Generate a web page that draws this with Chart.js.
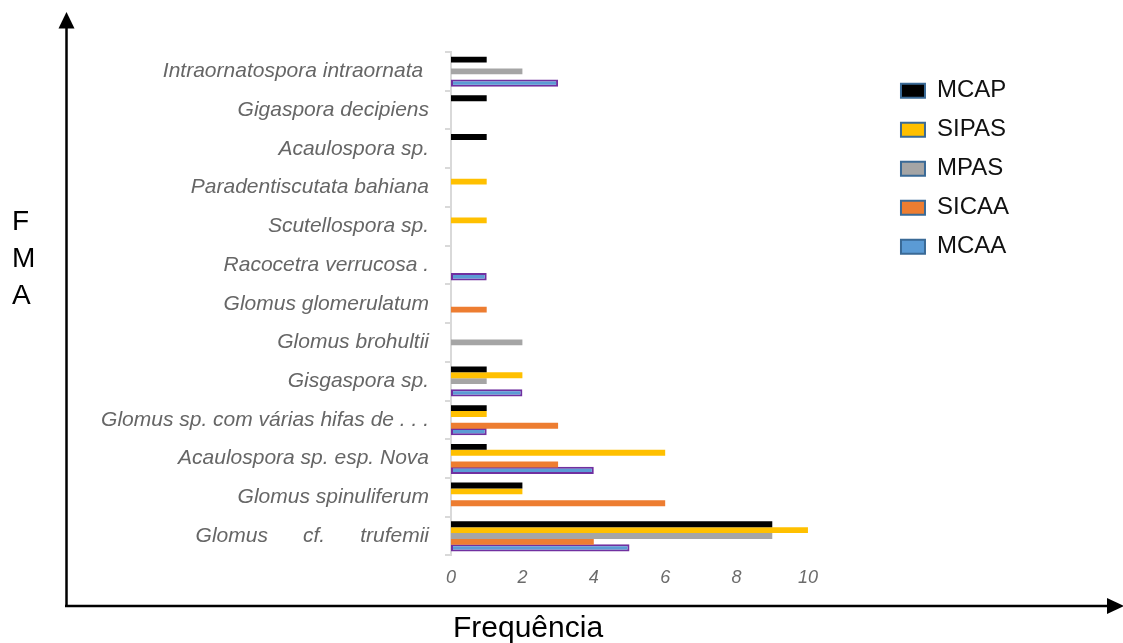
<!DOCTYPE html>
<html lang="pt">
<head>
<meta charset="utf-8">
<title>FMA - Frequência</title>
<script src="https://cdn.jsdelivr.net/npm/chart.js@4.4.0/dist/chart.umd.min.js"></script>
<style>
  html, body { margin: 0; padding: 0; background: #fff; }
  #wrap { position: relative; width: 1123px; height: 643px; overflow: hidden; font-family: "Liberation Sans", Arial, sans-serif; }
  #chart { position: absolute; left: 0; top: 0; }
  #yTitle { position: absolute; left: 12px; top: 202px; font-size: 28px; line-height: 37px; color: #000; }
  #xTitle { position: absolute; left: 453px; top: 612px; font-size: 30px; line-height: 30px; color: #000; }
</style>
</head>
<body>
<div id="wrap">
  <canvas id="chart" width="1123" height="643"></canvas>
  <div id="yTitle">F<br>M<br>A</div>
  <div id="xTitle">Frequência</div>
</div>
<script>
// Species of arbuscular mycorrhizal fungi (top to bottom)
const categories = [
  'Intraornatospora intraornata ',
  'Gigaspora decipiens',
  'Acaulospora sp.',
  'Paradentiscutata bahiana',
  'Scutellospora sp.',
  'Racocetra verrucosa .',
  'Glomus glomerulatum',
  'Glomus brohultii',
  'Gisgaspora sp.',
  'Glomus sp. com várias hifas de . . .',
  'Acaulospora sp. esp. Nova',
  'Glomus spinuliferum',
  'Glomus      cf.      trufemii'
];

// Frequency per area
const mcap  = [1, 1, 1, 0, 0, 0, 0, 0, 1, 1, 1, 2, 9];
const sipas = [0, 0, 0, 1, 1, 0, 0, 0, 2, 1, 6, 2, 10];
const mpas  = [2, 0, 0, 0, 0, 0, 0, 2, 1, 0, 0, 0, 9];
const sicaa = [0, 0, 0, 0, 0, 0, 1, 0, 0, 3, 3, 6, 4];
const mcaa  = [3, 0, 0, 0, 0, 1, 0, 0, 2, 1, 4, 0, 5];

const seriesNames = ['MCAP', 'SIPAS', 'MPAS', 'SICAA', 'MCAA'];
const xTicks = [0, 2, 4, 6, 8, 10];

// Outer frame: axis arrows on the left and bottom
const frameArrows = {
  id: 'frameArrows',
  afterDraw(chart) {
    const ctx = chart.ctx;
    ctx.save();
    ctx.strokeStyle = '#000';
    ctx.fillStyle = '#000';
    ctx.lineWidth = 2.5;
    ctx.beginPath();
    ctx.moveTo(66.5, 606);
    ctx.lineTo(66.5, 26);
    ctx.moveTo(65, 606);
    ctx.lineTo(1110, 606);
    ctx.stroke();
    // up arrow
    ctx.beginPath();
    ctx.moveTo(66.5, 12);
    ctx.lineTo(58.5, 28.5);
    ctx.lineTo(74.5, 28.5);
    ctx.closePath();
    ctx.fill();
    // right arrow
    ctx.beginPath();
    ctx.moveTo(1124, 606);
    ctx.lineTo(1107, 598);
    ctx.lineTo(1107, 614);
    ctx.closePath();
    ctx.fill();
    ctx.restore();
  }
};

const labelFont = { family: 'Liberation Sans', size: 21, style: 'italic' };

new Chart(document.getElementById('chart'), {
  type: 'bar',
  data: {
    labels: categories,
    datasets: [
      { label: seriesNames[0], data: mcap,  backgroundColor: '#000000', borderWidth: 0 },
      { label: seriesNames[1], data: sipas, backgroundColor: '#FFC000', borderWidth: 0 },
      { label: seriesNames[2], data: mpas,  backgroundColor: '#A5A5A5', borderWidth: 0 },
      { label: seriesNames[3], data: sicaa, backgroundColor: '#ED7D31', borderWidth: 0 },
      { label: seriesNames[4], data: mcaa,  backgroundColor: '#5B9BD5', borderColor: '#7030A0', borderWidth: 2, borderSkipped: false, barPercentage: 1.25 }
    ]
  },
  options: {
    indexAxis: 'y',
    responsive: false,
    animation: false,
    categoryPercentage: 0.76,
    barPercentage: 1.0,
    layout: { padding: { left: 0, top: 52, right: 104, bottom: 42 } },
    scales: {
      x: {
        min: 0,
        max: 10,
        afterBuildTicks(scale) { scale.ticks = xTicks.map(v => ({ value: v })); },
        grid: { display: false, drawTicks: false },
        border: { display: false },
        ticks: { color: '#6B6B6B', padding: 12, font: { family: 'Liberation Sans', size: 18, style: 'italic' } }
      },
      y: {
        type: 'category',
        position: 'left',
        afterFit(scale) { scale.width = 451; },
        grid: { display: true, drawOnChartArea: false, drawTicks: true, tickLength: 6, color: '#D9D9D9', lineWidth: 2, offset: true },
        border: { display: true, color: '#D9D9D9', width: 2 },
        ticks: { color: '#666666', padding: 16, font: labelFont, autoSkip: false }
      },
      ySpace: {
        type: 'category',
        position: 'right',
        afterFit(scale) { scale.width = 78; },
        grid: { display: false },
        border: { display: false },
        ticks: { display: false }
      }
    },
    plugins: {
      tooltip: { enabled: false },
      legend: {
        position: 'right',
        align: 'start',
        title: { display: true, text: '', font: { size: 1 }, padding: { top: 0, bottom: 10.5 } },
        labels: {
          boxWidth: 24,
          boxHeight: 14,
          padding: 15,
          color: '#111',
          font: { family: 'Liberation Sans', size: 24 },
          generateLabels(chart) {
            return Chart.defaults.plugins.legend.labels.generateLabels(chart).map(item => {
              item.strokeStyle = '#3A6A96';
              item.lineWidth = 2;
              return item;
            });
          }
        }
      }
    }
  },
  plugins: [frameArrows]
});
</script>
</body>
</html>
